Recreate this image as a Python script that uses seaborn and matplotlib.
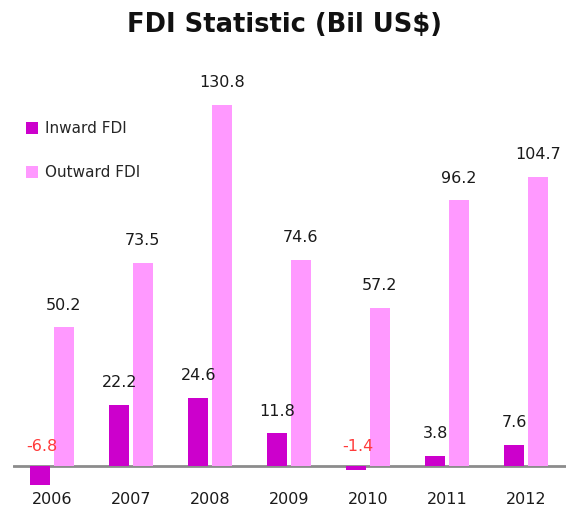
import pandas as pd
import matplotlib.pyplot as plt
import seaborn as sns

years = ["2006", "2007", "2008", "2009", "2010", "2011", "2012"]
inward = [-6.8, 22.2, 24.6, 11.8, -1.4, 3.8, 7.6]
outward = [50.2, 73.5, 130.8, 74.6, 57.2, 96.2, 104.7]
series = ["Inward FDI", "Outward FDI"]
colors = ["#CC00CC", "#FF99FF"]

df = pd.DataFrame({
    "year": years * 2,
    "value": inward + outward,
    "type": [series[0]] * len(years) + [series[1]] * len(years),
})

sns.set_style("white")
plt.rcParams["font.family"] = ["DejaVu Sans"]

fig = plt.figure(figsize=(5.69, 5.17), dpi=100)
ax = fig.add_axes([0.022, 0.052, 0.972, 0.832])

sns.barplot(data=df, x="year", y="value", hue="type", palette=colors,
            width=0.6, gap=0.16, saturation=1, linewidth=0, ax=ax)

ax.set_ylim(-8.7, 147)
ax.set_xlim(-0.5, len(years) - 0.5)
ax.axhline(0, color="#8c8c8c", lw=2, zorder=0)

for cont, vals in zip(ax.containers, [inward, outward]):
    for bar, v in zip(cont, vals):
        x = bar.get_x() + bar.get_width() / 2
        if v >= 0:
            ax.annotate(f"{v:.1f}", (x, v), xytext=(0, 16), textcoords="offset points",
                        ha="center", va="center", fontsize=11.5, color="#1a1a1a")
        else:
            ax.annotate(f"{v:.1f}", (x, 0), xytext=(1, 14), textcoords="offset points",
                        ha="center", va="center", fontsize=11.5, color="#ff3b3b")

for s in ax.spines.values():
    s.set_visible(False)
ax.set_yticks([])
ax.set_xlabel("")
ax.set_ylabel("")
ax.tick_params(axis="x", length=0, pad=1, labelsize=11.5, labelcolor="#1a1a1a")

ax.legend(loc="upper left", bbox_to_anchor=(0.0, 0.89), frameon=False,
          fontsize=11, labelspacing=1.9, handlelength=0.8, handleheight=0.8,
          handletextpad=0.4)

fig.text(0.5, 1 - 25 / 517, "FDI Statistic (Bil US$)", ha="center", va="center",
         fontsize=18.5, fontweight="bold", color="#111111")

fig.savefig("out.png", dpi=100)
